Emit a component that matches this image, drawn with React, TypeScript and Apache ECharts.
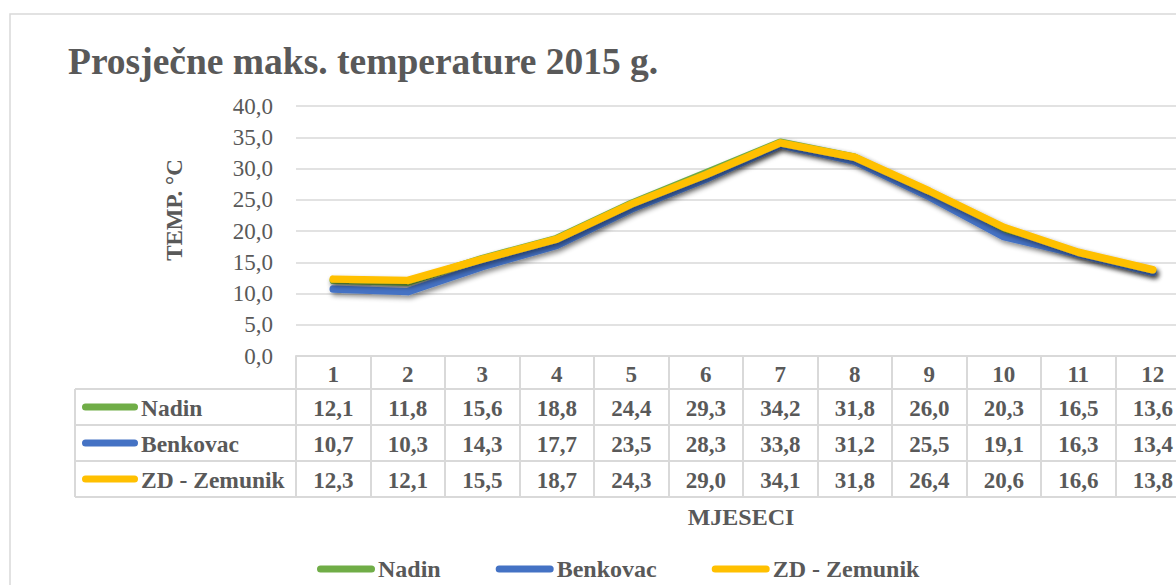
import React, { useEffect, useRef } from "react";
import * as echarts from "echarts";

const months = ["1", "2", "3", "4", "5", "6", "7", "8", "9", "10", "11", "12"];
const seriesNames = ["Nadin", "Benkovac", "ZD - Zemunik"];
const nadin = [12.1, 11.8, 15.6, 18.8, 24.4, 29.3, 34.2, 31.8, 26.0, 20.3, 16.5, 13.6];
const benkovac = [10.7, 10.3, 14.3, 17.7, 23.5, 28.3, 33.8, 31.2, 25.5, 19.1, 16.3, 13.4];
const zemunik = [12.3, 12.1, 15.5, 18.7, 24.3, 29.0, 34.1, 31.8, 26.4, 20.6, 16.6, 13.8];
const seriesValues = [nadin, benkovac, zemunik];
const colors = ["#70AD47", "#4472C4", "#FFC000"];

const FONT = "Liberation Serif";
const TXT = "#595959";
const LINE = "#d9d9d9";
const fmt = (v: number) => v.toFixed(1).replace(".", ",");

export default function App() {
  const ref = useRef<HTMLDivElement>(null);
  useEffect(() => {
    document.body.style.margin = "0";
    document.body.style.overflow = "hidden";
    const chart = echarts.init(ref.current!, undefined, { renderer: "svg" });
    const axisY = 356;
    const rowCenters = [407, 443, 479];
    const rowLines = [389, 425, 461, 497];
    const graphics: any[] = [
      {
        type: "rect",
        shape: { x: 10, y: 14, width: 1400, height: 800 },
        style: { fill: "none", stroke: LINE, lineWidth: 1.5 },
        z: -10,
      },
      ...rowLines.map((y) => ({
        type: "line",
        shape: { x1: 75, y1: y, x2: 1300, y2: y },
        style: { stroke: LINE, lineWidth: 2 },
      })),
      {
        type: "line",
        shape: { x1: 75, y1: 389, x2: 75, y2: 497 },
        style: { stroke: LINE, lineWidth: 2 },
      },
      ...seriesNames.flatMap((n, i) => [
        {
          type: "line",
          shape: { x1: 85.5, y1: rowCenters[i], x2: 134.5, y2: rowCenters[i] },
          style: { stroke: colors[i], lineWidth: 7, lineCap: "round" },
        },
        {
          type: "text",
          x: 141,
          y: rowCenters[i] + 1,
          style: {
            text: n,
            fill: TXT,
            fontFamily: FONT,
            fontSize: 23.5,
            fontWeight: "bold",
            verticalAlign: "middle",
            align: "left",
          },
        },
      ]),
      {
        type: "text",
        x: 174,
        y: 210,
        rotation: Math.PI / 2,
        style: {
          text: "TEMP. °C",
          fill: TXT,
          fontFamily: FONT,
          fontSize: 23,
          fontWeight: "bold",
          align: "center",
          verticalAlign: "middle",
        },
      },
      {
        type: "text",
        x: 741,
        y: 517,
        style: {
          text: "MJESECI",
          fill: TXT,
          fontFamily: FONT,
          fontSize: 24,
          fontWeight: "bold",
          align: "center",
          verticalAlign: "middle",
        },
      },
    ];

    const rowAxes = seriesValues.map((vals, i) => ({
      type: "category",
      gridIndex: 0,
      position: "bottom",
      offset: rowCenters[i] - axisY - 11.5 + 1,
      data: vals.map(fmt),
      boundaryGap: true,
      axisLine: { show: false },
      axisTick: { show: false },
      splitLine: { show: false },
      axisLabel: {
        interval: 0,
        margin: 0,
        color: TXT,
        fontFamily: FONT,
        fontSize: 23,
        lineHeight: 23,
        fontWeight: "bold",
      },
    }));

    chart.setOption({
      animation: false,
      backgroundColor: "#ffffff",
      textStyle: { fontFamily: FONT },
      title: {
        text: "Prosječne maks. temperature 2015 g.",
        left: 63,
        top: 37,
        textStyle: { color: TXT, fontFamily: FONT, fontSize: 37.5, fontWeight: "bold" },
      },
      legend: {
        data: seriesNames,
        left: 317,
        top: 557,
        padding: 0,
        icon: "path://M3.5,0 L54.5,0 A3.5,3.5 0 0 1 54.5,7 L3.5,7 A3.5,3.5 0 0 1 3.5,0 Z",
        itemWidth: 58,
        itemHeight: 7,
        itemGap: 55,
        textStyle: {
          color: TXT,
          fontFamily: FONT,
          fontSize: 24,
          fontWeight: "bold",
          padding: [0, 0, 0, -2],
        },
      },
      grid: {
        left: 296,
        top: 106,
        right: -14,
        bottom: 585 - axisY,
        outerBoundsMode: "none",
        containLabel: false,
      },
      xAxis: [
        {
          type: "category",
          data: months,
          boundaryGap: true,
          axisLine: { show: true, lineStyle: { color: LINE, width: 2 } },
          axisTick: {
            show: true,
            alignWithLabel: false,
            interval: 0,
            length: 141,
            lineStyle: { color: LINE, width: 2 },
          },
          axisLabel: {
            interval: 0,
            margin: 7,
            color: TXT,
            fontFamily: FONT,
            fontSize: 23,
            lineHeight: 23,
            fontWeight: "bold",
          },
        },
        ...rowAxes,
      ],
      yAxis: {
        type: "value",
        min: 0,
        max: 40,
        interval: 5,
        axisLine: { show: false },
        axisTick: { show: false },
        splitLine: { lineStyle: { color: LINE, width: 1.5 } },
        axisLabel: {
          margin: 23,
          color: TXT,
          fontFamily: FONT,
          fontSize: 23,
          formatter: (v: number) => fmt(v),
        },
      },
      series: seriesNames.map((n, i) => ({
        name: n,
        type: "line",
        data: seriesValues[i],
        symbol: "none",
        itemStyle: { color: colors[i] },
        lineStyle: {
          color: colors[i],
          width: 7.5,
          cap: "round",
          join: "round",
          shadowColor: "rgba(0,0,0,0.45)",
          shadowBlur: 5,
          shadowOffsetX: 2,
          shadowOffsetY: 3,
        },
        z: 3 + i,
      })),
      graphic: graphics,
    });
    return () => chart.dispose();
  }, []);
  return (
    <div
      ref={ref}
      style={{ position: "absolute", left: 0, top: 0, width: 1176, height: 585 }}
    />
  );
}
